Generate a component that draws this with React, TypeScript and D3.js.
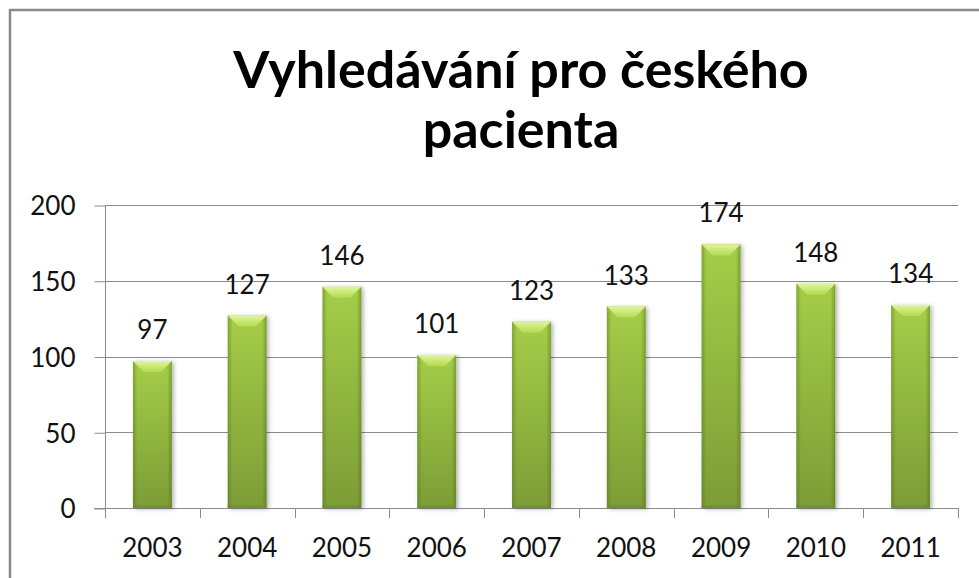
import React, { useEffect, useRef } from 'react';
import * as d3 from 'd3';

// data
const years = ['2003', '2004', '2005', '2006', '2007', '2008', '2009', '2010', '2011'];
const counts = [97, 127, 146, 101, 123, 133, 174, 148, 134];
const yTicks = [0, 50, 100, 150, 200];
const titleLines = ['Vyhledávání pro českého', 'pacienta'];

const FONT = 'Lato, "Open Sans", sans-serif';

const App = () => {
  const ref = useRef<SVGSVGElement | null>(null);

  useEffect(() => {
    if (!ref.current) return;
    const svg = d3.select(ref.current);
    svg.selectAll('*').remove();

    const width = 979, height = 578;
    const left = 105, right = 958, top = 205, bottom = 508;

    const defs = svg.append('defs');
    const vg = defs.append('linearGradient').attr('id', 'barV')
      .attr('x1', 0).attr('y1', 0).attr('x2', 0).attr('y2', 1);
    vg.append('stop').attr('offset', '0%').attr('stop-color', '#a9d34a');
    vg.append('stop').attr('offset', '100%').attr('stop-color', '#7f9f38');
    const hg = defs.append('linearGradient').attr('id', 'barH')
      .attr('x1', 0).attr('y1', 0).attr('x2', 1).attr('y2', 0);
    hg.append('stop').attr('offset', '0%').attr('stop-color', '#4f6a1a').attr('stop-opacity', 0.45);
    hg.append('stop').attr('offset', '12%').attr('stop-color', '#4f6a1a').attr('stop-opacity', 0.05);
    hg.append('stop').attr('offset', '88%').attr('stop-color', '#4f6a1a').attr('stop-opacity', 0.05);
    hg.append('stop').attr('offset', '100%').attr('stop-color', '#4f6a1a').attr('stop-opacity', 0.5);
    const tg = defs.append('linearGradient').attr('id', 'bevel')
      .attr('x1', 0).attr('y1', 0).attr('x2', 0).attr('y2', 1);
    tg.append('stop').attr('offset', '0%').attr('stop-color', '#e0f59c');
    tg.append('stop').attr('offset', '100%').attr('stop-color', '#b3da52');
    const sh = defs.append('filter').attr('id', 'shadow')
      .attr('x', '-20%').attr('y', '-20%').attr('width', '150%').attr('height', '140%');
    sh.append('feDropShadow').attr('dx', 2).attr('dy', 1).attr('stdDeviation', 2)
      .attr('flood-color', '#000').attr('flood-opacity', 0.3);

    svg.append('rect').attr('width', width).attr('height', height).attr('fill', '#fff');
    // chart frame, cut off by the window on the right and bottom
    svg.append('rect').attr('x', 10).attr('y', 10).attr('width', 1000).attr('height', 600)
      .attr('fill', 'none').attr('stroke', '#8a8a8a').attr('stroke-width', 2.5);

    svg.append('g').selectAll('text').data(titleLines).enter().append('text')
      .attr('x', 521).attr('y', (d, i) => 88 + i * 60)
      .attr('text-anchor', 'middle')
      .attr('font-family', FONT).attr('font-weight', 700).attr('font-size', 52)
      .attr('fill', '#000').text(d => d);

    const x = d3.scaleBand().domain(years).range([left, right]);
    const y = d3.scaleLinear().domain([0, 200]).range([bottom, top]);
    const bw = x.bandwidth() * 0.41;

    // gridlines
    svg.append('g').selectAll('line').data(yTicks.filter(t => t > 0)).enter().append('line')
      .attr('x1', left).attr('x2', right)
      .attr('y1', d => Math.round(y(d)) + 0.5).attr('y2', d => Math.round(y(d)) + 0.5)
      .attr('stroke', '#8c8c8c').attr('stroke-width', 1);

    // y axis
    const yAxis = svg.append('g').attr('transform', `translate(${left + 0.5},0.5)`)
      .call(d3.axisLeft(y).tickValues(yTicks).tickSize(11).tickPadding(19).tickSizeOuter(0));
    yAxis.select('.domain').attr('d', `M0,${top}V${bottom + 10}`).attr('stroke', '#8c8c8c');
    yAxis.selectAll('.tick line').attr('stroke', '#8c8c8c');
    yAxis.selectAll('.tick text').attr('font-family', FONT).attr('font-size', 26)
      .attr('fill', '#111').attr('dy', '0.36em');

    // x axis
    const xg = svg.append('g');
    xg.append('line').attr('x1', left - 11).attr('x2', right)
      .attr('y1', bottom + 0.5).attr('y2', bottom + 0.5).attr('stroke', '#8c8c8c');
    const bounds = years.map(d => x(d) as number).concat([right]);
    xg.selectAll('.xt').data(bounds).enter().append('line').attr('class', 'xt')
      .attr('x1', d => Math.round(d) + 0.5).attr('x2', d => Math.round(d) + 0.5)
      .attr('y1', bottom).attr('y2', bottom + 10).attr('stroke', '#8c8c8c');
    xg.selectAll('text').data(years).enter().append('text')
      .attr('x', d => (x(d) as number) + x.bandwidth() / 2).attr('y', 557)
      .attr('text-anchor', 'middle').attr('font-family', FONT).attr('font-size', 26)
      .attr('fill', '#111').text(d => d);

    // bars
    const data = years.map((yr, i) => ({ yr, v: counts[i] }));
    const bars = svg.append('g').selectAll('g').data(data).enter().append('g');
    const bx = (d: { yr: string }) => (x(d.yr) as number) + (x.bandwidth() - bw) / 2;
    bars.append('rect').attr('x', bx).attr('y', d => y(d.v)).attr('width', bw)
      .attr('height', d => bottom - y(d.v)).attr('fill', 'url(#barV)').attr('filter', 'url(#shadow)');
    bars.append('rect').attr('x', bx).attr('y', d => y(d.v)).attr('width', bw)
      .attr('height', d => bottom - y(d.v)).attr('fill', 'url(#barH)');
    const bev = 11;
    bars.append('polygon').attr('points', d => {
      const x0 = bx(d), x1 = x0 + bw, t = y(d.v);
      return `${x0},${t} ${x1},${t} ${x1 - bev},${t + bev} ${x0 + bev},${t + bev}`;
    }).attr('fill', 'url(#bevel)');
    bars.append('rect').attr('x', bx).attr('y', bottom - 3).attr('width', bw).attr('height', 3)
      .attr('fill', '#6f8c2c').attr('opacity', 0.6);

    // value labels
    bars.append('text').attr('x', d => (x(d.yr) as number) + x.bandwidth() / 2)
      .attr('y', d => y(d.v) - 22).attr('text-anchor', 'middle')
      .attr('font-family', FONT).attr('font-size', 26).attr('fill', '#111').text(d => d.v);
  }, []);

  return (
    <svg ref={ref} width={979} height={578}
      style={{ position: 'fixed', left: 0, top: 0, display: 'block' }} />
  );
};

export default App;
